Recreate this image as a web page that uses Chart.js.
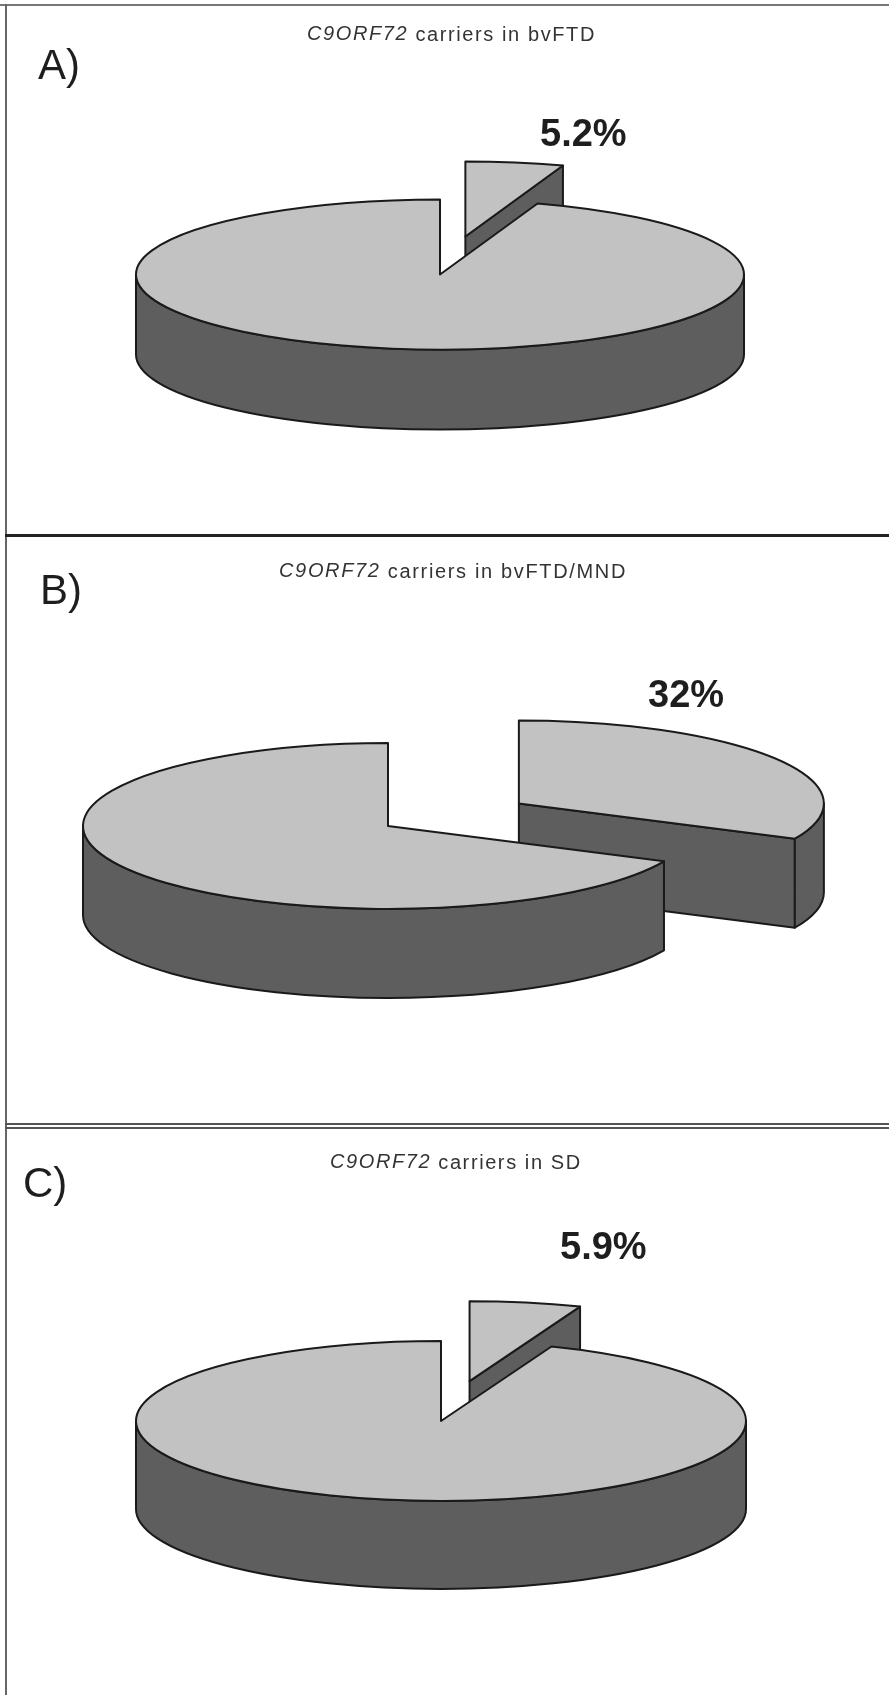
<!DOCTYPE html>
<html lang="en">
<head>
<meta charset="UTF-8">
<title>C9ORF72 carriers</title>
<script src="https://cdn.jsdelivr.net/npm/chart.js"></script>
<style>
  html, body { margin: 0; background: #fff; }
  #page { position: relative; width: 889px; height: 1695px; overflow: hidden; font-family: "Liberation Sans", Arial, sans-serif; color: #1e1e1e; filter: blur(0.5px); }
  #page canvas { position: absolute; }
  .rule { position: absolute; }
  .letter, .title, .pct { position: absolute; white-space: nowrap; line-height: 1; }
  .letter { font-size: 42px; }
  .title { font-size: 20px; color: #333; }
  .title i { position: relative; top: -1px; }
  .pct { font-size: 38px; font-weight: bold; }
</style>
</head>
<body>
<div id="page">
  <div class="rule" style="left:0;top:4px;width:889px;height:2px;background:#777"></div>
  <div class="rule" style="left:5px;top:4px;width:2px;height:1691px;background:#666"></div>
  <div class="rule" style="left:5px;top:534px;width:884px;height:3px;background:#222"></div>
  <div class="rule" style="left:5px;top:1123px;width:884px;height:2px;background:#555"></div>
  <div class="rule" style="left:5px;top:1127px;width:884px;height:2px;background:#555"></div>
</div>

<script>
// share of carriers per panel, the rest is non carriers
const panelLetters = ['A)', 'B)', 'C)'];
const panelGroups = ['bvFTD', 'bvFTD/MND', 'SD'];
const carrierShare = [5.2, 32, 5.9];
const otherShare = [94.8, 68, 94.1];

// layout
const radius = [304, 305, 305];
const sliceOffset = [156, 155, 155];
const centerX = [440, 388, 441];
const centerY = [274.5, 826, 1421];
const tilt = [0.2467, 0.272, 0.262];
const depth = [80, 89, 88];
const letterPos = [[38, 44], [40, 569], [23, 1162]];
const titlePos = [[307, 34, 289], [279, 571, 348], [330, 1162, 252]];
const pctPos = [[540, 133], [648, 694], [560, 1246]];

const CANVAS_WIDTH = 1200;
const TOP_COLOR = '#c2c2c2';
const SIDE_COLOR = '#5e5e5e';
const LINE_COLOR = '#1a1a1a';

// Pie slice drawn as a tilted disc with a wall under it
class TiltedArc extends Chart.ArcElement {
  draw(ctx) {
    const { x, y, startAngle, endAngle, outerRadius } = this.getProps(['x', 'y', 'startAngle', 'endAngle', 'outerRadius']);
    const { tilt, depth, offset } = this.options;
    const mid = (startAngle + endAngle) / 2;
    const cx = x + Math.cos(mid) * offset;
    const cy = y + Math.sin(mid) * offset * tilt;
    const rx = outerRadius, ry = outerRadius * tilt;
    const px = a => cx + Math.cos(a) * rx;
    const py = a => cy + Math.sin(a) * ry;

    ctx.save();
    ctx.lineWidth = 2;
    ctx.lineJoin = 'round';
    ctx.strokeStyle = LINE_COLOR;
    ctx.fillStyle = SIDE_COLOR;

    // cut face at the end of the slice, only when it looks at us
    if (Math.cos(endAngle) > 1e-6) {
      ctx.beginPath();
      ctx.moveTo(cx, cy);
      ctx.lineTo(px(endAngle), py(endAngle));
      ctx.lineTo(px(endAngle), py(endAngle) + depth);
      ctx.lineTo(cx, cy + depth);
      ctx.closePath();
      ctx.fill();
      ctx.stroke();
    }

    // outer wall, front half of the rim only
    const from = Math.max(startAngle, 0);
    const to = Math.min(endAngle, Math.PI);
    if (to > from) {
      ctx.beginPath();
      ctx.ellipse(cx, cy, rx, ry, 0, from, to);
      ctx.lineTo(px(to), py(to) + depth);
      ctx.ellipse(cx, cy + depth, rx, ry, 0, to, from, true);
      ctx.closePath();
      ctx.fill();
      ctx.stroke();
    }

    // top face
    ctx.fillStyle = TOP_COLOR;
    ctx.beginPath();
    ctx.moveTo(cx, cy);
    ctx.ellipse(cx, cy, rx, ry, 0, startAngle, endAngle);
    ctx.closePath();
    ctx.fill();
    ctx.stroke();
    ctx.restore();
  }
}
TiltedArc.id = 'tiltedArc';
TiltedArc.defaults = Object.assign({}, Chart.ArcElement.defaults, { tilt: 0.25, depth: 80 });

class TiltedPie extends Chart.PieController {}
TiltedPie.id = 'tiltedPie';
TiltedPie.defaults = Object.assign({}, Chart.PieController.defaults, { dataElementType: 'tiltedArc' });
TiltedPie.overrides = Chart.PieController.overrides;

Chart.register(TiltedArc, TiltedPie);

const page = document.getElementById('page');

function addText(cls, html, left, top) {
  const el = document.createElement('div');
  el.className = cls;
  el.innerHTML = html;
  el.style.left = left + 'px';
  el.style.top = top + 'px';
  page.appendChild(el);
  return el;
}

carrierShare.forEach((share, i) => {
  // the height sets the radius, Chart.js takes offset and border off it
  const height = 2 * radius[i] + sliceOffset[i] + 1;
  const canvas = document.createElement('canvas');
  canvas.width = CANVAS_WIDTH;
  canvas.height = height;
  canvas.style.left = (centerX[i] - CANVAS_WIDTH / 2) + 'px';
  canvas.style.top = (centerY[i] - height / 2) + 'px';
  page.appendChild(canvas);

  new Chart(canvas, {
    type: 'tiltedPie',
    data: {
      labels: ['Carriers', 'Non carriers'],
      datasets: [{
        data: [share, otherShare[i]],
        offset: [sliceOffset[i], 0],
        borderWidth: 1,
        tilt: tilt[i],
        depth: depth[i]
      }]
    },
    options: {
      responsive: false,
      animation: false,
      layout: { padding: 0 },
      plugins: { legend: { display: false }, tooltip: { enabled: false } }
    }
  });

  addText('letter', panelLetters[i], letterPos[i][0], letterPos[i][1]);
  const t = addText('title', '<i>C9ORF72</i> carriers in ' + panelGroups[i], titlePos[i][0], titlePos[i][1] - 10);
  t.style.letterSpacing = (titlePos[i][2] - t.offsetWidth) / t.textContent.length + 'px';
  addText('pct', share + '%', pctPos[i][0], pctPos[i][1] - 19);
});
</script>
</body>
</html>
